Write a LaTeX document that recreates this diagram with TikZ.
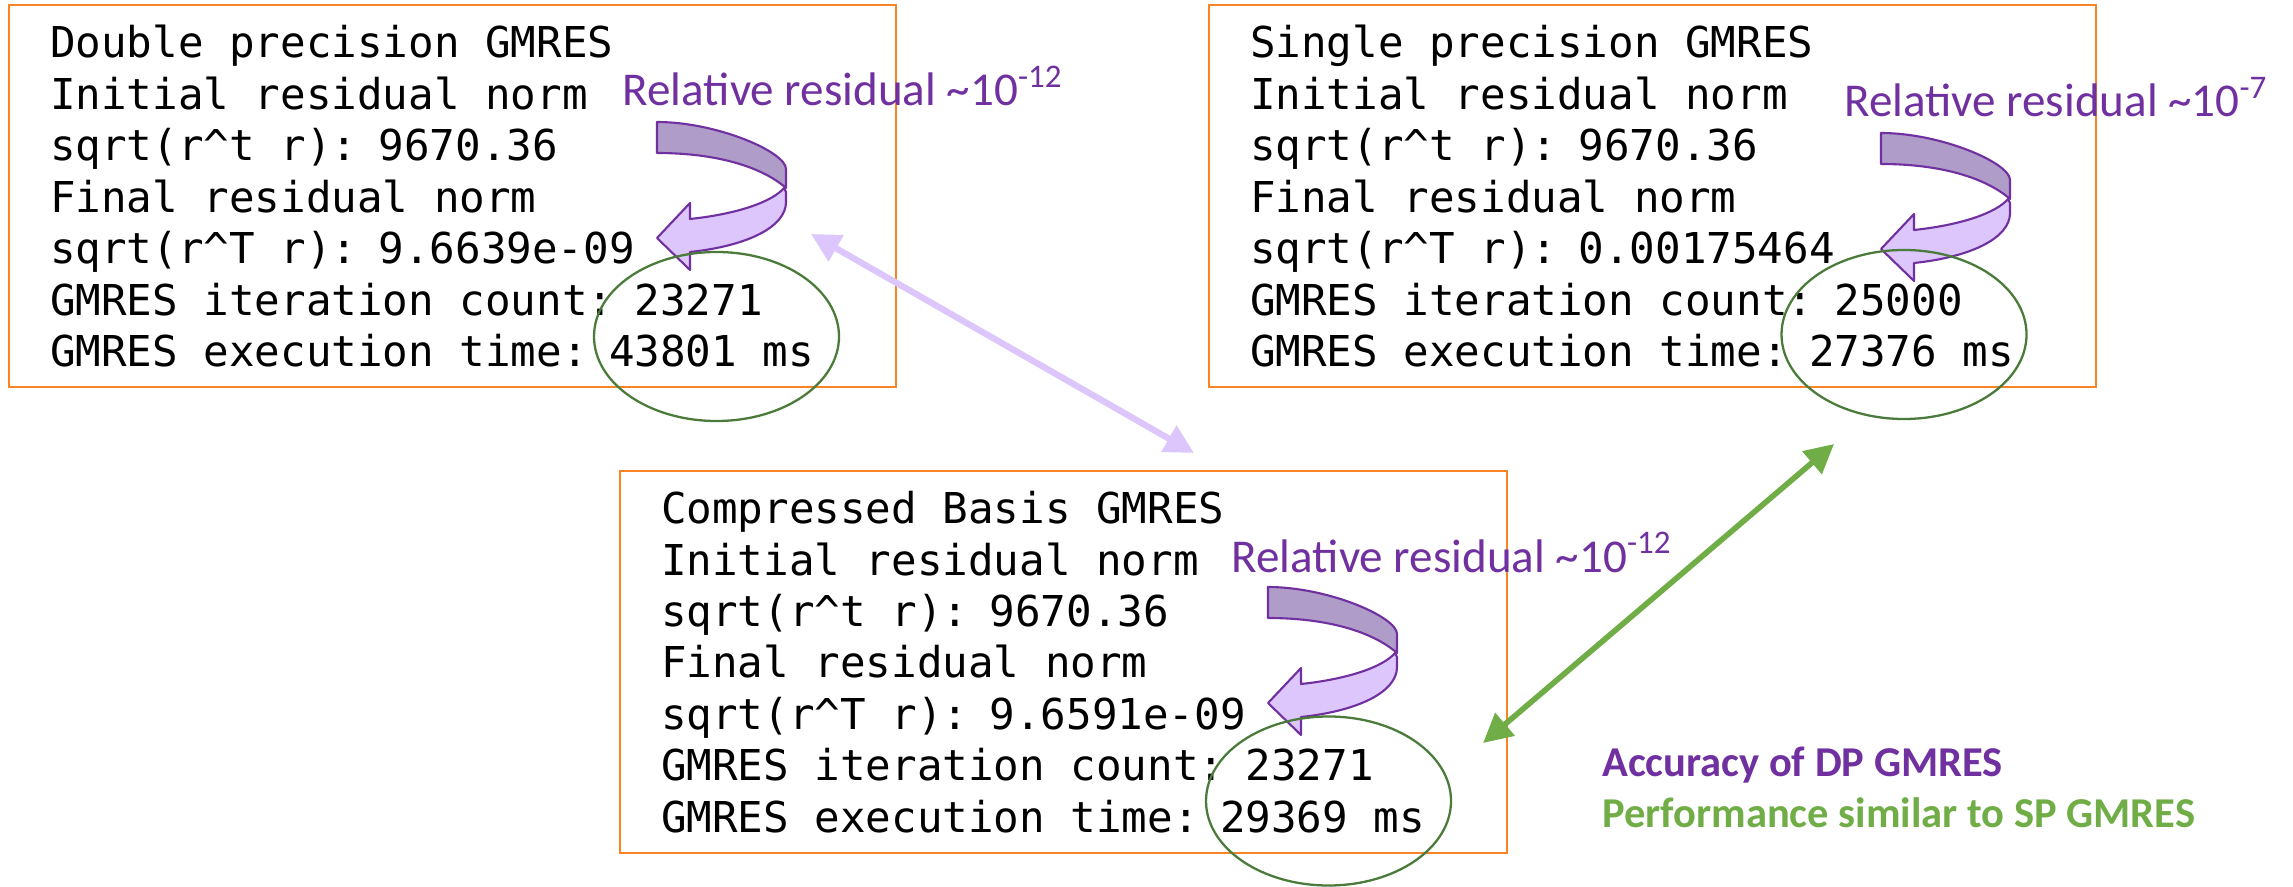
\documentclass[tikz,border=0pt]{standalone}
\usepackage{fontspec}
\usetikzlibrary{shapes.geometric,arrows.meta}
\newfontfamily\codefont{DejaVu Sans Mono}[WordSpace={1,0,0}]
\newfontfamily\notefont{Carlito}
\definecolor{boxorange}{HTML}{FA8424}
\definecolor{ringgreen}{HTML}{4B7B3B}
\definecolor{curlline}{HTML}{7030A0}
\definecolor{curlback}{HTML}{AF9CC9}
\definecolor{curlfront}{HTML}{DCC6FB}
\definecolor{linkgreen}{HTML}{70AD47}
\begin{document}
\begin{tikzpicture}[panel/.style={draw=boxorange,line width=0.65pt,anchor=north west,inner xsep=0.41cm,text width=8.05cm,minimum height=3.82cm,align=left,font=\codefont\fontsize{12.1}{14.65}\selectfont,execute at begin node={\spaceskip=0.602em\relax}},
ring/.style={draw=ringgreen,line width=0.65pt,ellipse,inner sep=0pt,minimum width=2.45cm,minimum height=1.69cm},
note/.style={anchor=base west,inner sep=0pt,font=\notefont\fontsize{13.4}{16}\selectfont},
link/.style={line width=#1,{Triangle[length=2.9mm,width=2.9mm]}-{Triangle[length=2.9mm,width=2.9mm]}},
curl/.pic={
\filldraw[curlline,fill=curlback,line width=0.6pt,line join=round] (0,0) .. controls (0.60,0) and (1.29,-0.30) .. (1.29,-0.47) -- (1.29,-0.66) .. controls (1.05,-0.45) and (0.60,-0.31) .. (0,-0.31) -- cycle;
\filldraw[curlline,fill=curlfront,line width=0.6pt,line join=round] (1.27,-0.66) -- (1.29,-0.70) -- (1.29,-0.80) .. controls (1.29,-1.05) and (0.90,-1.24) .. (0.33,-1.30) -- (0.33,-1.48) -- (0,-1.16) -- (0.33,-0.81) -- (0.33,-0.97) .. controls (0.80,-0.92) and (1.15,-0.80) .. (1.27,-0.66) -- cycle;
}]
\useasboundingbox (0,0) rectangle (22.93,8.86);
\node[panel] (dp) at (0.08,8.82) {Double precision GMRES\\Initial residual norm\\sqrt(r\textasciicircum{}t r): 9670.36\\Final residual norm\\sqrt(r\textasciicircum{}T r): 9.6639e-09\\GMRES iteration count: 23271\\GMRES execution time: 43801 ms};
\node[panel] (sp) at (12.08,8.82) {Single precision GMRES\\Initial residual norm\\sqrt(r\textasciicircum{}t r): 9670.36\\Final residual norm\\sqrt(r\textasciicircum{}T r): 0.00175464\\GMRES iteration count: 25000\\GMRES execution time: 27376 ms};
\node[panel] (cb) at (6.19,4.16) {Compressed Basis GMRES\\Initial residual norm\\sqrt(r\textasciicircum{}t r): 9670.36\\Final residual norm\\sqrt(r\textasciicircum{}T r): 9.6591e-09\\GMRES iteration count: 23271\\GMRES execution time: 29369 ms};
\pic at (6.57,7.64) {curl};
\pic at (18.81,7.53) {curl};
\pic at (12.68,2.99) {curl};
\node[ring] (dpring) at (7.165,5.495) {};
\node[ring] (spring) at (19.04,5.515) {};
\node[ring] (cbring) at (13.285,0.85) {};
\node[note,text=curlline] (dpnote) at (6.22,7.80) {Relative residual \textasciitilde10\textsuperscript{-12}};
\node[note,text=curlline] (spnote) at (18.435,7.69) {Relative residual \textasciitilde10\textsuperscript{-7}};
\node[note,text=curlline] (cbnote) at (12.31,3.14) {Relative residual \textasciitilde10\textsuperscript{-12}};
\coordinate (lavtop) at (8.11,6.52);
\coordinate (lavbot) at (11.94,4.33);
\coordinate (greentop) at (18.34,4.42);
\coordinate (greenbot) at (14.83,1.43);
\draw[link=1.8pt,curlfront] (lavtop) -- (lavbot);
\draw[link=1.6pt,linkgreen] (greentop) -- (greenbot);
\node[note,font=\notefont\bfseries\fontsize{12.1}{14}\selectfont,text=curlline] (acc) at (16.015,1.093) {Accuracy of DP GMRES};
\node[note,font=\notefont\bfseries\fontsize{12.1}{14}\selectfont,text=linkgreen] (perf) at (16.015,0.583) {Performance similar to SP GMRES};
\end{tikzpicture}
\end{document}
